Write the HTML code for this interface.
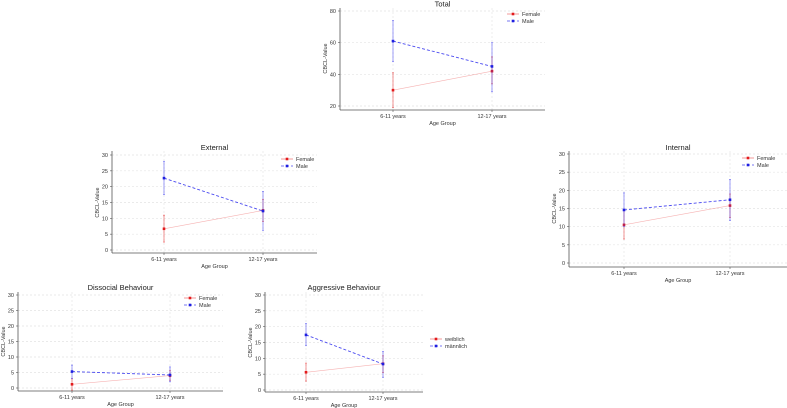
<!DOCTYPE html>
<html><head><meta charset="utf-8"><style>
body{margin:0;background:#fff;width:787px;height:408px;overflow:hidden;font-family:"Liberation Sans",sans-serif}
svg{display:block}
</style></head><body>
<svg id="c" width="787" height="408"></svg>
<script>
const categories=["6-11 years","12-17 years"];
const totalFemale=[30,42], totalFemaleLo=[19,34], totalFemaleHi=[41,51];
const totalMale=[61,45], totalMaleLo=[48,29], totalMaleHi=[74,60];
const extFemale=[6.7,12.5], extFemaleLo=[2.5,9], extFemaleHi=[11,16];
const extMale=[22.7,12.3], extMaleLo=[17.5,6.2], extMaleHi=[28,18.5];
const intFemale=[10.5,15.8], intFemaleLo=[6.6,12.5], intFemaleHi=[14.5,19];
const intMale=[14.6,17.4], intMaleLo=[10,11.7], intMaleHi=[19.3,23];
const disFemale=[1.2,4.0], disFemaleLo=[-0.7,2.5], disFemaleHi=[3,5.6];
const disMale=[5.3,4.2], disMaleLo=[3,2], disMaleHi=[7.4,6.8];
const aggFemale=[5.6,8.3], aggFemaleLo=[2.8,5.5], aggFemaleHi=[8.5,10.8];
const aggMale=[17.4,8.2], aggMaleLo=[14,4], aggMaleHi=[21,12.2];
const ticksTotal=[20,40,60,80];
const ticks30=[0,5,10,15,20,25,30];
const legendEN=["Female","Male"], legendDE=["weiblich","männlich"];

const panels=[
 {id:"total",title:"Total",L:340,R:545,T:8,B:110,ty:6.5,yMin:20,yMax:80,yTop:11,yBot:106,cx:[393,492],ticks:ticksTotal,
  f:[totalFemale,totalFemaleLo,totalFemaleHi],m:[totalMale,totalMaleLo,totalMaleHi],leg:legendEN,lx:507,ly:14},
 {id:"external",title:"External",L:112,R:317,T:151,B:253,ty:150,yMin:0,yMax:30,yTop:155,yBot:250,cx:[164,263],ticks:ticks30,
  f:[extFemale,extFemaleLo,extFemaleHi],m:[extMale,extMaleLo,extMaleHi],leg:legendEN,lx:281,ly:159},
 {id:"internal",title:"Internal",L:569,R:787,T:151,B:267,ty:150,yMin:0,yMax:30,yTop:154,yBot:263,cx:[624,730],ticks:ticks30,
  f:[intFemale,intFemaleLo,intFemaleHi],m:[intMale,intMaleLo,intMaleHi],leg:legendEN,lx:742,ly:158},
 {id:"dissocial",title:"Dissocial Behaviour",L:18,R:223,T:292,B:391,ty:290,yMin:0,yMax:30,yTop:295,yBot:388,cx:[72,170],ticks:ticks30,
  f:[disFemale,disFemaleLo,disFemaleHi],m:[disMale,disMaleLo,disMaleHi],leg:legendEN,lx:184,ly:298},
 {id:"aggressive",title:"Aggressive Behaviour",L:265,R:423,T:292,B:392,ty:290,yMin:0,yMax:30,yTop:295,yBot:390,cx:[306,383],ticks:ticks30,
  f:[aggFemale,aggFemaleLo,aggFemaleHi],m:[aggMale,aggMaleLo,aggMaleHi],leg:legendDE,lx:430,ly:339}
];
const NS="http://www.w3.org/2000/svg";
const svg=document.getElementById("c");
function mk(tag,attrs,parent,text){const e=document.createElementNS(NS,tag);for(const k in attrs)e.setAttribute(k,attrs[k]);if(text!==undefined)e.textContent=text;parent.appendChild(e);return e;}
panels.forEach(p=>{
 const g=mk("g",{},svg);
 
 
 const y=v=>p.yBot-(v-p.yMin)/(p.yMax-p.yMin)*(p.yBot-p.yTop);
 const x=i=>p.cx[i];
 p.ticks.forEach(t=>{
  const gl=mk("line",{x1:p.L,x2:p.R,y1:y(t),y2:y(t),stroke:"#e4e4e4","stroke-width":0.7,"stroke-dasharray":"2,2"},g);
  
  
  mk("line",{x1:p.L-2,x2:p.L,y1:y(t),y2:y(t),stroke:"#555","stroke-width":0.6},g);
  const tl=mk("text",{x:p.L-4,y:y(t)+2,"font-size":5.5,"text-anchor":"end",fill:"#333"},g,t);
  
  
 });
 categories.forEach((c,i)=>{
  mk("line",{x1:x(i),x2:x(i),y1:p.T,y2:p.B,stroke:"#e4e4e4","stroke-width":0.7,"stroke-dasharray":"2,2"},g);
  mk("line",{x1:x(i),x2:x(i),y1:p.B,y2:p.B+2,stroke:"#555","stroke-width":0.6},g);
  const xl=mk("text",{x:x(i),y:p.B+8,"font-size":5.5,"text-anchor":"middle",fill:"#333"},g,c);
  
  
 });
 mk("line",{x1:p.L,x2:p.L,y1:p.T,y2:p.B,stroke:"#555","stroke-width":0.8},g);
 mk("line",{x1:p.L,x2:p.R,y1:p.B,y2:p.B,stroke:"#555","stroke-width":0.8},g);
 const tt=mk("text",{x:(p.L+p.R)/2,y:p.ty,"font-size":7.5,"text-anchor":"middle",fill:"#222"},g,p.title);
 
 
 const xt=mk("text",{x:(p.L+p.R)/2,y:p.B+15,"font-size":5.5,"text-anchor":"middle",fill:"#333"},g,"Age Group");
 
 
 const ym=(p.yTop+p.yBot)/2, yx=p.L-13;
 const yt=mk("text",{x:yx,y:ym,"font-size":5.5,"text-anchor":"middle",fill:"#333",transform:`rotate(-90 ${yx} ${ym})`},g,"CBCL-Value");
 
 
 const series=[[p.f,"#f08080","rgba(230,40,40,0.55)","#e31a1c",null],[p.m,"#4b4bf0","rgba(60,60,240,0.55)","#1f1fe0","3,2"]];
 series.forEach((s,si)=>{
  const [d,lc,ec,pc,dash]=s;
  const ln=mk("line",{x1:x(0),y1:y(d[0][0]),x2:x(1),y2:y(d[0][1]),stroke:lc,"stroke-width":si?0.9:0.6,"stroke-opacity":si?1:0.6},g);
  if(dash)ln.setAttribute("stroke-dasharray",dash);
  
  
  categories.forEach((c,i)=>{
   const eb=mk("line",{x1:x(i),x2:x(i),y1:y(d[1][i]),y2:y(d[2][i]),stroke:ec,"stroke-width":0.9},g);
   
   
   mk("line",{x1:x(i)-1,x2:x(i)+1,y1:y(d[1][i]),y2:y(d[1][i]),stroke:ec,"stroke-width":0.8},g);
   mk("line",{x1:x(i)-1,x2:x(i)+1,y1:y(d[2][i]),y2:y(d[2][i]),stroke:ec,"stroke-width":0.8},g);
   const pt=mk("rect",{x:x(i)-1.3,y:y(d[0][i])-1.3,width:2.6,height:2.6,fill:pc},g);
   
   
  });
  const ly=p.ly+si*7;
  const ll=mk("line",{x1:p.lx,x2:p.lx+12,y1:ly,y2:ly,stroke:lc,"stroke-width":0.8},g);
  if(dash)ll.setAttribute("stroke-dasharray",dash);
  mk("rect",{x:p.lx+4.7,y:ly-1.3,width:2.6,height:2.6,fill:pc},g);
  const lt=mk("text",{x:p.lx+15,y:ly+2,"font-size":5.5,fill:"#333"},g,p.leg[si]);
  
  
 });
});
</script>
</body></html>
